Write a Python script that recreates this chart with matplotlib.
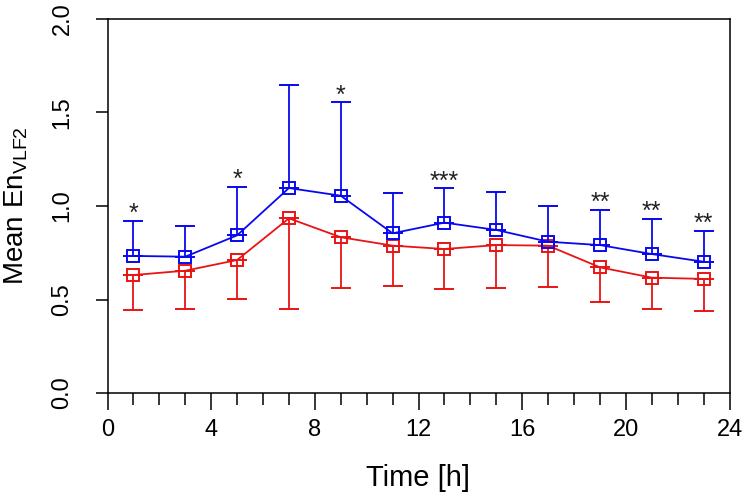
import matplotlib

matplotlib.use("Agg")
import matplotlib.pyplot as plt
from matplotlib.ticker import MultipleLocator
import numpy as np

plt.rcParams["font.family"] = ["Liberation Sans", "DejaVu Sans"]
plt.rcParams["mathtext.default"] = "regular"

# 時刻と平均値（上：青、下：赤）
hours = [1, 3, 5, 7, 9, 11, 13, 15, 17, 19, 21, 23]
blue_mean = [0.733, 0.729, 0.843, 1.096, 1.055, 0.854, 0.911, 0.872, 0.809, 0.791, 0.743, 0.702]
blue_upper = [0.921, 0.895, 1.100, 1.647, 1.554, 1.071, 1.094, 1.075, 1.000, 0.979, 0.930, 0.866]
red_mean = [0.631, 0.654, 0.711, 0.934, 0.833, 0.788, 0.770, 0.791, 0.788, 0.672, 0.617, 0.610]
red_lower = [0.444, 0.449, 0.503, 0.447, 0.563, 0.572, 0.556, 0.563, 0.567, 0.485, 0.449, 0.439]
stars = ["*", "", "*", "", "*", "", "***", "", "", "**", "**", "**"]

blue = "#0808f0"
red = "#e81414"

fig = plt.figure(figsize=(7.45, 4.97), dpi=100)
ax = fig.add_axes([107.5 / 745, 104 / 497, 622 / 745, 374 / 497])

h = np.array(hours)
bm = np.array(blue_mean)
rm = np.array(red_mean)
b_err = [np.zeros_like(bm), np.array(blue_upper) - bm]
r_err = [rm - np.array(red_lower), np.zeros_like(rm)]

ax.errorbar(h, bm, yerr=b_err, color=blue, marker="s", ms=9, mfc="none", mew=1.4,
            lw=1.3, elinewidth=1.3, capsize=7, capthick=1.3, zorder=3)
ax.errorbar(h, rm, yerr=r_err, color=red, marker="s", ms=9, mfc="none", mew=1.4,
            lw=1.3, elinewidth=1.3, capsize=7, capthick=1.3, zorder=2)

# 有意差の星印
for x, top, s in zip(hours, blue_upper, stars):
    if s:
        ax.annotate(s, (x, top), xytext=(0, 0), textcoords="offset points",
                    ha="center", va="baseline", fontsize=18, color="#222222")

ax.set_xlim(0, 24)
ax.set_ylim(0, 2)
ax.xaxis.set_major_locator(MultipleLocator(4))
ax.xaxis.set_minor_locator(MultipleLocator(1))
ax.set_yticks([0, 0.5, 1.0, 1.5, 2.0])
ax.set_yticklabels(["0.0", "0.5", "1.0", "1.5", "2.0"], rotation=90, va="center")

ax.tick_params(axis="x", which="major", length=12, width=1.1, pad=6.5, labelsize=17)
ax.tick_params(axis="x", which="minor", length=8.5, width=1.1)
ax.tick_params(axis="y", which="major", length=8.5, width=1.1, pad=16, labelsize=17)
for spine in ax.spines.values():
    spine.set_linewidth(1.1)

ax.set_xlabel("Time [h]", fontsize=21, labelpad=17)
ax.set_ylabel("Mean En$_{VLF2}$", fontsize=20)
ax.yaxis.set_label_coords(-0.125, 0.5)

fig.savefig("out.png", dpi=100, facecolor="white")
